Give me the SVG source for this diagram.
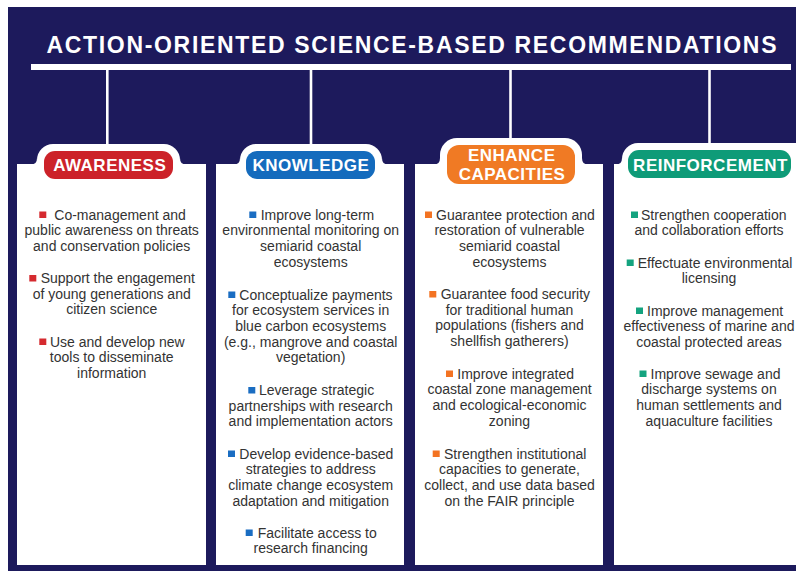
<svg xmlns="http://www.w3.org/2000/svg" width="796" height="571" viewBox="0 0 796 571">
<style>
.bg{fill:#1d1a5c}
.col{fill:#ffffff}
.outer{fill:#ffffff}
.conn{stroke:#ffffff;stroke-width:2.6;fill:none}
.title{font-family:"Liberation Sans",Arial,sans-serif;font-weight:bold;font-size:23px;fill:#ffffff}
.pill{font-family:"Liberation Sans",Arial,sans-serif;font-weight:bold;font-size:17px;fill:#ffffff;text-anchor:middle;letter-spacing:0.5px}
.t{font-family:"Liberation Sans",Arial,sans-serif;font-size:14px;fill:#333333}
.m{text-anchor:middle}
.red{fill:#cc2229}
.blue{fill:#146bbd}
.orange{fill:#f07a24}
.green{fill:#0e9b78}
.bred{fill:#d52a2f}
.bblue{fill:#1a6dc2}
.borange{fill:#f37322}
.bgreen{fill:#14a37f}
</style>
<rect x="0" y="0" width="796" height="571" fill="#ffffff"/>
<rect class="bg" x="8" y="7" width="788" height="564"/>
<text class="title" x="46.5" y="53.3" textLength="730" lengthAdjust="spacing">ACTION-ORIENTED SCIENCE-BASED RECOMMENDATIONS</text>
<rect x="31" y="64" width="760" height="6" fill="#ffffff"/>
<g id="connectors">
<line class="conn" x1="107.3" y1="69" x2="107.3" y2="145"/>
<line class="conn" x1="311" y1="69" x2="311" y2="145"/>
<line class="conn" x1="510.5" y1="69" x2="510.5" y2="139"/>
<line class="conn" x1="709.5" y1="69" x2="709.5" y2="144"/>
</g>
<g id="awareness">
<rect class="col" x="17" y="164" width="189" height="401"/>
<rect class="outer" x="37" y="144" width="143" height="42" rx="16"/>
<path class="outer" d="M31,164.5 Q37,164.5 37,158 L37,165 Z M186,164.5 Q180,164.5 180,158 L180,165 Z"/>
<rect class="red" x="44" y="151" width="129" height="28" rx="11"/>
<text class="pill" x="109.7" y="170.7">AWARENESS</text>
<rect class="bred" x="39.3" y="211.5" width="7" height="6.5"/>
<text class="t" x="54.3" y="219.5">Co-management and</text>
<text class="t m" x="111.7" y="235.2">public awareness on threats</text>
<text class="t m" x="111.7" y="250.9">and conservation policies</text>
<rect class="bred" x="29.3" y="275" width="7" height="6.5"/>
<text class="t" x="40.7" y="283">Support the engagement</text>
<text class="t m" x="111.7" y="298.7">of young generations and</text>
<text class="t m" x="111.7" y="314.4">citizen science</text>
<rect class="bred" x="39.3" y="338.5" width="7" height="6.5"/>
<text class="t" x="50" y="346.5">Use and develop new</text>
<text class="t m" x="111.7" y="362.2">tools to disseminate</text>
<text class="t m" x="111.7" y="377.9">information</text>
</g>
<g id="knowledge">
<rect class="col" x="216" y="164" width="188" height="401"/>
<rect class="outer" x="240" y="144" width="142" height="42" rx="16"/>
<path class="outer" d="M234,164.5 Q240,164.5 240,158 L240,165 Z M388,164.5 Q382,164.5 382,158 L382,165 Z"/>
<rect class="blue" x="246" y="151" width="129" height="28" rx="11"/>
<text class="pill" x="311" y="170.7">KNOWLEDGE</text>
<rect class="bblue" x="249.3" y="211.5" width="7" height="6.5"/>
<text class="t" x="260.7" y="219.5">Improve long-term</text>
<text class="t m" x="310.7" y="235.2">environmental monitoring on</text>
<text class="t m" x="310.7" y="250.9">semiarid coastal</text>
<text class="t m" x="310.7" y="266.6">ecosystems</text>
<rect class="bblue" x="228.3" y="291.5" width="7" height="6.5"/>
<text class="t" x="239.3" y="299.5">Conceptualize payments</text>
<text class="t m" x="310.7" y="315.2">for ecosystem services in</text>
<text class="t m" x="310.7" y="330.9">blue carbon ecosystems</text>
<text class="t m" x="310.7" y="346.6">(e.g., mangrove and coastal</text>
<text class="t m" x="310.7" y="362.3">vegetation)</text>
<rect class="bblue" x="248.3" y="387" width="7" height="6.5"/>
<text class="t" x="259" y="395">Leverage strategic</text>
<text class="t m" x="310.7" y="410.7">partnerships with research</text>
<text class="t m" x="310.7" y="426.4">and implementation actors</text>
<rect class="bblue" x="228" y="450.5" width="7" height="6.5"/>
<text class="t" x="239.3" y="458.5">Develop evidence-based</text>
<text class="t m" x="310.7" y="474.2">strategies to address</text>
<text class="t m" x="310.7" y="489.9">climate change ecosystem</text>
<text class="t m" x="310.7" y="505.6">adaptation and mitigation</text>
<rect class="bblue" x="245.7" y="529.5" width="7" height="6.5"/>
<text class="t" x="257.7" y="537.5">Facilitate access to</text>
<text class="t m" x="310.7" y="553.2">research financing</text>
</g>
<g id="enhance-capacities">
<rect class="col" x="415" y="164" width="188" height="401"/>
<rect class="outer" x="440" y="138" width="142" height="54" rx="17"/>
<path class="outer" d="M434,164.5 Q440,164.5 440,158 L440,165 Z M588,164.5 Q582,164.5 582,158 L582,165 Z"/>
<rect class="orange" x="447" y="145" width="128" height="39" rx="12"/>
<text class="pill" x="511.7" y="161">ENHANCE</text>
<text class="pill" x="512" y="180">CAPACITIES</text>
<rect class="borange" x="425" y="211.5" width="7" height="6.5"/>
<text class="t" x="436" y="219.5">Guarantee protection and</text>
<text class="t m" x="509.5" y="235.2">restoration of vulnerable</text>
<text class="t m" x="509.5" y="250.9">semiarid coastal</text>
<text class="t m" x="509.5" y="266.6">ecosystems</text>
<rect class="borange" x="429.3" y="291" width="7" height="6.5"/>
<text class="t" x="440.7" y="299">Guarantee food security</text>
<text class="t m" x="509.5" y="314.7">for traditional human</text>
<text class="t m" x="509.5" y="330.4">populations (fishers and</text>
<text class="t m" x="509.5" y="346.1">shellfish gatherers)</text>
<rect class="borange" x="446" y="370.5" width="7" height="6.5"/>
<text class="t" x="457.3" y="378.5">Improve integrated</text>
<text class="t m" x="509.5" y="394.2">coastal zone management</text>
<text class="t m" x="509.5" y="409.9">and ecological-economic</text>
<text class="t m" x="509.5" y="425.6">zoning</text>
<rect class="borange" x="432.7" y="450.5" width="7" height="6.5"/>
<text class="t" x="444" y="458.5">Strengthen institutional</text>
<text class="t m" x="509.5" y="474.2">capacities to generate,</text>
<text class="t m" x="509.5" y="489.9">collect, and use data based</text>
<text class="t m" x="509.5" y="505.6">on the FAIR principle</text>
</g>
<g id="reinforcement">
<rect class="col" x="614" y="164" width="200" height="401"/>
<rect class="outer" x="622" y="143" width="190" height="42" rx="16"/>
<path class="outer" d="M616,164.5 Q622,164.5 622,158 L622,165 Z"/>
<rect class="green" x="628" y="150" width="163" height="28" rx="11"/>
<text class="pill" x="710.5" y="170.7">REINFORCEMENT</text>
<rect class="bgreen" x="631" y="211.5" width="7" height="6.5"/>
<text class="t" x="641" y="219.5">Strengthen cooperation</text>
<text class="t m" x="709" y="235.2">and collaboration efforts</text>
<rect class="bgreen" x="626.7" y="259.5" width="7" height="6.5"/>
<text class="t" x="637.7" y="267.5">Effectuate environmental</text>
<text class="t m" x="709" y="283.2">licensing</text>
<rect class="bgreen" x="636" y="307.5" width="7" height="6.5"/>
<text class="t" x="647" y="315.5">Improve management</text>
<text class="t m" x="709" y="331.2">effectiveness of marine and</text>
<text class="t m" x="709" y="346.9">coastal protected areas</text>
<rect class="bgreen" x="639.5" y="370.5" width="7" height="6.5"/>
<text class="t" x="650.5" y="378.5">Improve sewage and</text>
<text class="t m" x="709" y="394.2">discharge systems on</text>
<text class="t m" x="709" y="409.9">human settlements and</text>
<text class="t m" x="709" y="425.6">aquaculture facilities</text>
</g>
</svg>
